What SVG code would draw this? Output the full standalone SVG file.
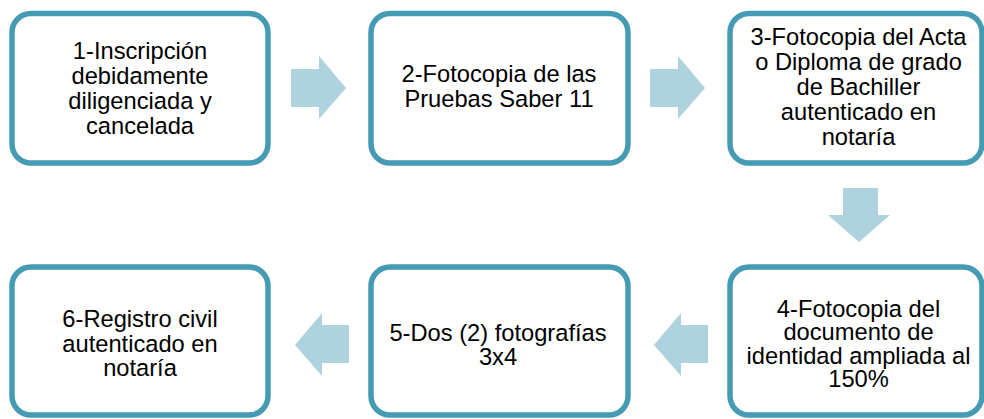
<svg xmlns="http://www.w3.org/2000/svg" width="984" height="419" viewBox="0 0 984 419">
<style>
.box{fill:#ffffff;stroke:#449bb3;stroke-width:5.5}
.arr{fill:#aed3df;stroke:none}
text{font-family:"Liberation Sans",Arial,sans-serif;font-size:23.7px;fill:#000;text-anchor:middle}
</style>
<rect width="984" height="419" fill="#ffffff"/>
<g id="connectors">
<polygon class="arr" points="291,69 319,69 319,56 346,88 319,119 319,107 291,107"/>
<polygon class="arr" points="650,69 678,69 678,56 705,88 678,119 678,107 650,107"/>
<polygon class="arr" points="843,188 878,188 878,215 890,215 859,242 828,215 843,215"/>
<polygon class="arr" points="708,325 681,325 681,313 654,345 681,376 681,363 708,363"/>
<polygon class="arr" points="349,325 322,325 322,313 295,345 322,376 322,363 349,363"/>
</g>
<g id="node1">
<rect class="box" x="12" y="13.5" width="256" height="149.5" rx="19"/>
<text x="140" y="59">1-Inscripción</text>
<text x="140" y="84">debidamente</text>
<text x="140" y="109">diligenciada y</text>
<text x="140" y="133.5">cancelada</text>
</g>
<g id="node2">
<rect class="box" x="371" y="13.5" width="257" height="149.5" rx="19"/>
<text x="499" y="82">2-Fotocopia de las</text>
<text x="499" y="106.5">Pruebas Saber 11</text>
</g>
<g id="node3">
<rect class="box" x="730" y="13.5" width="252" height="149.5" rx="19"/>
<text x="858.5" y="45">3-Fotocopia del Acta</text>
<text x="858.5" y="70">o Diploma de grado</text>
<text x="858.5" y="95">de Bachiller</text>
<text x="858.5" y="120">autenticado en</text>
<text x="858.5" y="144.5">notaría</text>
</g>
<g id="node4">
<rect class="box" x="730" y="267" width="252" height="148" rx="19"/>
<text x="858.5" y="316.5">4-Fotocopia del</text>
<text x="858.5" y="340">documento de</text>
<text x="858.5" y="363.5">identidad ampliada al</text>
<text x="858.5" y="387">150%</text>
</g>
<g id="node5">
<rect class="box" x="371" y="267" width="257" height="148" rx="19"/>
<text x="498" y="341">5-Dos (2) fotografías</text>
<text x="498" y="365">3x4</text>
</g>
<g id="node6">
<rect class="box" x="12" y="267" width="256" height="148" rx="19"/>
<text x="140" y="327">6-Registro civil</text>
<text x="140" y="351.5">autenticado en</text>
<text x="140" y="376">notaría</text>
</g>
</svg>
